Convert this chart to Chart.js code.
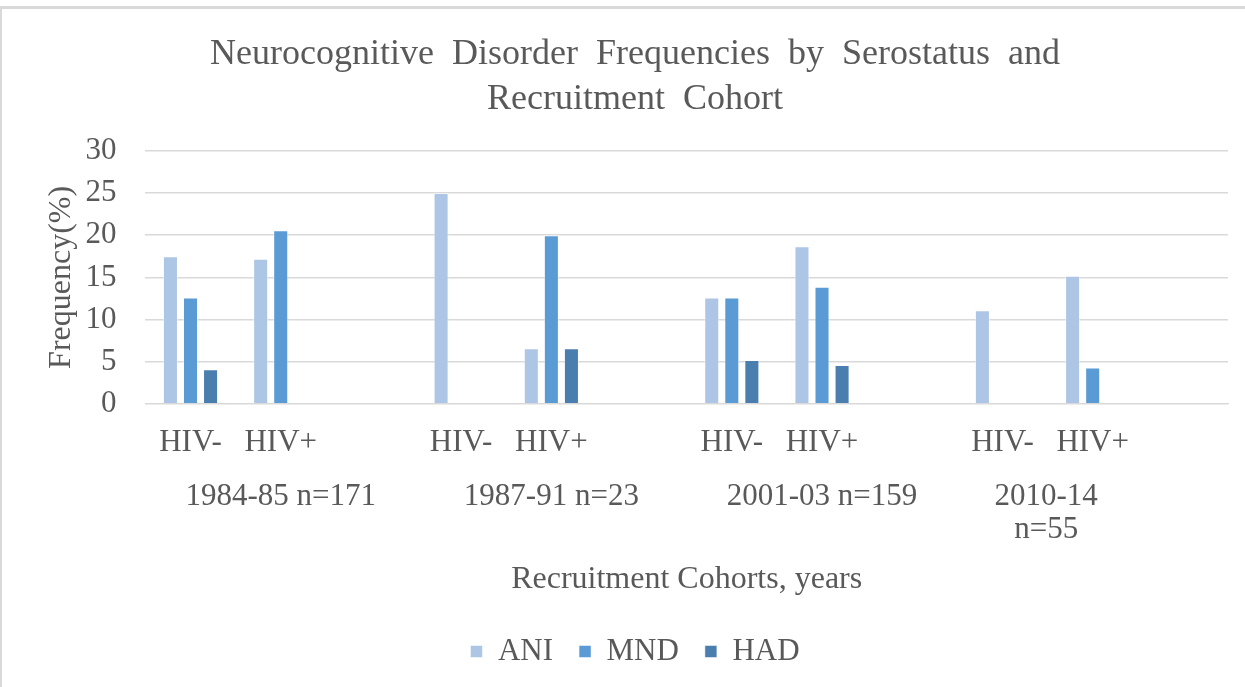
<!DOCTYPE html>
<html>
<head>
<meta charset="utf-8">
<script src="https://cdn.jsdelivr.net/npm/chart.js@4/dist/chart.umd.min.js"></script>
<style>
  body { margin: 0; background: #fff; }
  #wrap { position: relative; width: 1245px; height: 687px; box-sizing: border-box;
          border-top: 3px solid #d9d9d9; border-left: 2px solid #d9d9d9; margin-top: 6px; }
</style>
</head>
<body>
<div id="wrap"><canvas id="chart" width="1243" height="678"></canvas></div>
<script>
// one slot per serostatus, plus a blank slot after each cohort
const slots = ['HIV-', 'HIV+', '', 'HIV-', 'HIV+', '', 'HIV-', 'HIV+', '', 'HIV-', 'HIV+', ''];
// last label wraps in the original and sits left of its group centre
const cohorts = ['1984-85 n=171', '1987-91 n=23', '2001-03 n=159',
  ['2010-14            ', 'n=55            ']];

const ani = [17.5, 17.2, null, 25.0, 6.6, null, 12.6, 18.7, null, 11.1, 15.2, null];
const mnd = [12.6, 20.6, null, 0, 20.0, null, 12.6, 13.9, null, 0, 4.3, null];
const had = [4.1, 0, null, 0, 6.6, null, 5.2, 4.6, null, 0, 0, null];

const yTicks = [0, 5, 10, 15, 20, 25, 30];

const font = 'Liberation Serif';
const grey = '#595959';

const mkSet = (label, data, color) => ({
  label: label,
  data: data,
  backgroundColor: color,
  borderColor: 'rgba(255,255,255,0.5)',
  borderWidth: 1,
  categoryPercentage: 0.667,
  barPercentage: 0.75
});

new Chart(document.getElementById('chart'), {
  type: 'bar',
  data: {
    labels: slots,
    datasets: [
      mkSet('ANI', ani, '#aec6e6'),
      mkSet('MND', mnd, '#5b9bd5'),
      mkSet('HAD', had, '#4a7eae')
    ]
  },
  options: {
    responsive: false,
    animation: false,
    layout: { padding: { top: 23, left: 40, right: 17, bottom: 10 } },
    plugins: {
      title: {
        display: true,
        text: ['Neurocognitive  Disorder  Frequencies  by  Serostatus  and', 'Recruitment  Cohort'],
        color: grey,
        font: { family: font, size: 36, weight: 'normal', lineHeight: 1.25 },
        padding: { top: 0, bottom: 29 }
      },
      legend: {
        position: 'bottom',
        labels: {
          color: grey,
          font: { family: font, size: 31 },
          boxWidth: 12,
          boxHeight: 12,
          padding: 26
        }
      },
      tooltip: { enabled: false }
    },
    scales: {
      x: {
        weight: 0,
        grid: { display: false },
        border: { color: '#d9d9d9' },
        ticks: { color: grey, font: { family: font, size: 31, lineHeight: 1.1 }, maxRotation: 0, autoSkip: false, padding: 14 }
      },
      x2: {
        type: 'category',
        position: 'bottom',
        weight: 1,
        labels: cohorts,
        grid: { display: false, drawTicks: false },
        border: { display: false },
        ticks: { color: grey, font: { family: font, size: 31, lineHeight: 1.08 }, maxRotation: 0, autoSkip: false, padding: 6 },
        title: {
          display: true,
          text: 'Recruitment Cohorts, years',
          color: grey,
          font: { family: font, size: 32, lineHeight: 1.1 },
          padding: { top: 9, bottom: 13 }
        }
      },
      y: {
        min: 0,
        max: 30,
        afterBuildTicks: (s) => { s.ticks = yTicks.map(v => ({ value: v })); },
        grid: { color: '#d9d9d9', lineWidth: 1.5, drawTicks: false },
        border: { display: false },
        ticks: { color: grey, font: { family: font, size: 31 }, padding: 29, autoSkip: false },
        title: {
          display: true,
          text: 'Frequency(%)',
          color: grey,
          font: { family: font, size: 32 },
          padding: { top: 0, bottom: -24 }
        }
      }
    }
  }
});
</script>
</body>
</html>
